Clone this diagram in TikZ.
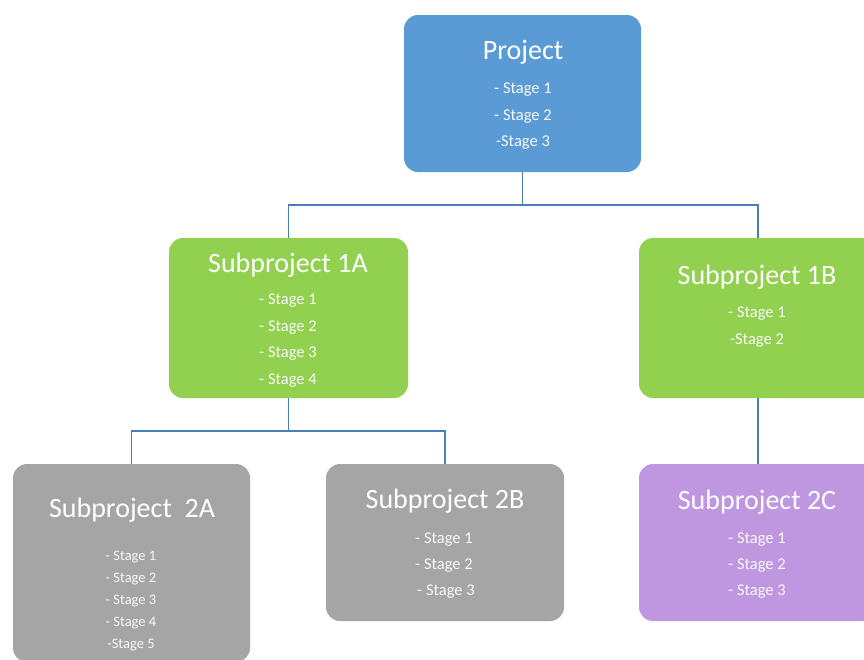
\documentclass[tikz,border=0pt]{standalone}
\usepackage{fontspec}
\setmainfont{Carlito}
\definecolor{cblue}{HTML}{5B9BD5}
\definecolor{cgreen}{HTML}{92D050}
\definecolor{cgray}{HTML}{A5A5A5}
\definecolor{cpurple}{HTML}{BF97E0}
\definecolor{cline}{HTML}{4A7EBB}
\begin{document}
\begin{tikzpicture}[x=1pt,y=-1pt,
  box/.style={rectangle, rounded corners=14pt, draw=none, inner sep=0pt},
  ttl/.style={text=white, font=\fontsize{28}{30}\selectfont, inner sep=0pt, anchor=center},
  stg/.style={text=white!95!gray, font=\fontsize{16.5}{18}\selectfont, inner sep=0pt, anchor=center},
  stgs/.style={text=white!95!gray, font=\fontsize{14.5}{16}\selectfont, inner sep=0pt, anchor=center},
  conn/.style={draw=cline, line width=1.8pt}]
\clip (0,0) rectangle (864,659);
\fill[white] (0,0) rectangle (864,659);
% boxes
\node[box, fill=cblue, minimum width=237pt, minimum height=157pt] (p) at (522.5,93.5) {};
\node[box, fill=cgreen, minimum width=239pt, minimum height=160pt] (a1) at (288.5,318) {};
\node[box, fill=cgreen, minimum width=238pt, minimum height=160pt] (b1) at (758,318) {};
\node[box, fill=cgray, minimum width=237pt, minimum height=198pt] (a2) at (131.5,563) {};
\node[box, fill=cgray, minimum width=238pt, minimum height=157pt] (b2) at (445,542.5) {};
\node[box, fill=cpurple, minimum width=238pt, minimum height=157pt] (c2) at (758,542.5) {};
% connectors
\coordinate (j1) at (522.5,205);
\coordinate (j2) at (288.5,431);
\draw[conn] (p.south) -- (j1);
\draw[conn] (a1.north) |- (j1) -| (b1.north);
\draw[conn] (a1.south) -- (j2);
\draw[conn] (a2.north) |- (j2) -| (b2.north);
\draw[conn] (b1.south) -- (c2.north);
\begin{scope}[shift={(0,2)}]
% texts: Project
\node[ttl] (tp) at (523,50) {Project};
\node[stg] (tp1) at (523,88) {- Stage 1};
\node[stg] (tp2) at (523,115) {- Stage 2};
\node[stg] (tp3) at (523,141) {-Stage 3};
% 1A
\node[ttl] (ta) at (288,263) {Subproject 1A};
\node[stg] (ta1) at (288,299) {- Stage 1};
\node[stg] (ta2) at (288,326) {- Stage 2};
\node[stg] (ta3) at (288,352) {- Stage 3};
\node[stg] (ta4) at (288,379) {- Stage 4};
% 1B
\node[ttl] (tb) at (757,275) {Subproject 1B};
\node[stg] (tb1) at (757,312) {- Stage 1};
\node[stg] (tb2) at (757,339) {-Stage 2};
% 2A
\node[ttl] (tc) at (132,508) {Subproject \ 2A};
\node[stgs] (tc1) at (131,555) {- Stage 1};
\node[stgs] (tc2) at (131,577) {- Stage 2};
\node[stgs] (tc3) at (131,599) {- Stage 3};
\node[stgs] (tc4) at (131,621) {- Stage 4};
\node[stgs] (tc5) at (131,643) {-Stage 5};
% 2B
\node[ttl] (td) at (445,499) {Subproject 2B};
\node[stg] (td1) at (444,538) {- Stage 1};
\node[stg] (td2) at (444,564) {- Stage 2};
\node[stg] (td3) at (446,590) {- Stage 3};
% 2C
\node[ttl] (te) at (757,500) {Subproject 2C};
\node[stg] (te1) at (757,538) {- Stage 1};
\node[stg] (te2) at (757,564) {- Stage 2};
\node[stg] (te3) at (757,590) {- Stage 3};
\end{scope}
\end{tikzpicture}
\end{document}
